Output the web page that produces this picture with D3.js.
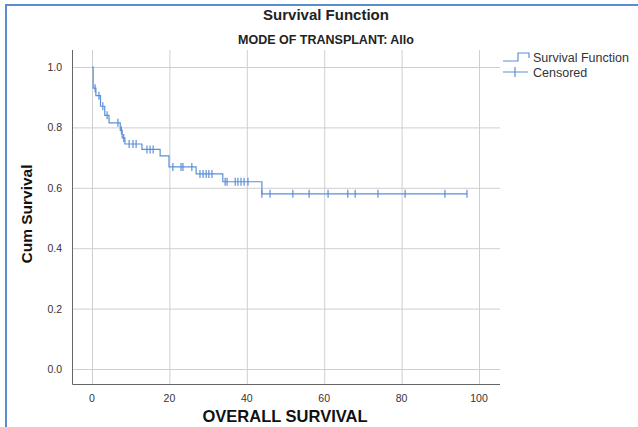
<!DOCTYPE html>
<html>
<head>
<meta charset="utf-8">
<script src="https://cdn.jsdelivr.net/npm/d3@7"></script>
<style>
  body { margin: 0; background: #fff; }
  svg { font-family: "Liberation Sans", Arial, sans-serif; }
</style>
</head>
<body>
<script>
// survival steps: at stepTimes[i] the curve drops to stepSurvival[i]
const stepTimes = [0, 0.3, 1.0, 2.2, 3.3, 4.4, 7.3, 7.8, 8.5, 12.9, 17.6, 19.9, 26.9, 33.8, 43.9];
const stepSurvival = [1.0, 0.93, 0.905, 0.87, 0.84, 0.815, 0.79, 0.765, 0.745, 0.727, 0.706, 0.669, 0.646, 0.62, 0.58];
const lastTime = 96.9;

// censored cases (months)
const censoredTimes = [0.8, 1.8, 2.8, 3.9, 6.7, 7.6, 8.2, 9.6, 10.6, 11.4, 14.2, 15.0, 15.8,
  20.9, 23.0, 23.5, 25.8, 27.9, 28.7, 29.5, 30.2, 31.0,
  34.4, 34.9, 37.0, 37.7, 38.5, 39.3, 40.3,
  43.9, 46.0, 51.9, 56.1, 61.0, 66.1, 68.0, 73.9, 80.9, 91.2, 96.9];

const xTicks = [0, 20, 40, 60, 80, 100];
const yTicks = [0, 0.2, 0.4, 0.6, 0.8, 1.0];

const W = 638;
const H = 427;
const frame = { left: 72, right: 500, top: 50, bottom: 384 };
const blue = '#5b8fd8';

const x = d3.scaleLinear().domain([0, 100]).range([92, 479]);
const y = d3.scaleLinear().domain([0, 1]).range([369, 67]);

const survivalAt = (t) => {
  let s = 1;
  stepTimes.forEach((st, i) => { if (st <= t) s = stepSurvival[i]; });
  return s;
};

const svg = d3.select('body').append('svg')
  .attr('width', W)
  .attr('height', H);

// outer blue border (only top and left are visible)
svg.append('path')
  .attr('d', `M6,${H} V5 H${W}`)
  .attr('fill', 'none')
  .attr('stroke', '#5b8bd0')
  .attr('stroke-width', 2);

svg.append('text')
  .attr('x', 326).attr('y', 20)
  .attr('text-anchor', 'middle')
  .style('font-size', '15px').style('font-weight', 'bold')
  .attr('fill', '#222')
  .text('Survival Function');

svg.append('text')
  .attr('x', 326).attr('y', 44)
  .attr('text-anchor', 'middle')
  .style('font-size', '12.5px').style('font-weight', 'bold')
  .attr('fill', '#222')
  .text('MODE OF TRANSPLANT: Allo');

// grid
const grid = svg.append('g').attr('stroke', '#cfcfcf').attr('stroke-width', 1);
grid.selectAll('.vx')
  .data(xTicks)
  .enter().append('line')
  .attr('x1', d => x(d) + 0.5).attr('x2', d => x(d) + 0.5)
  .attr('y1', frame.top).attr('y2', frame.bottom);
grid.selectAll('.hy')
  .data(yTicks)
  .enter().append('line')
  .attr('x1', frame.left).attr('x2', frame.right)
  .attr('y1', d => y(d) + 0.5).attr('y2', d => y(d) + 0.5);

// axes
svg.append('path')
  .attr('d', `M${frame.left + 0.5},${frame.top} V${frame.bottom + 0.5} H${frame.right}`)
  .attr('fill', 'none')
  .attr('stroke', '#666')
  .attr('stroke-width', 1);

svg.selectAll('.xl')
  .data(xTicks)
  .enter().append('text')
  .attr('x', d => x(d))
  .attr('y', 402)
  .attr('text-anchor', 'middle')
  .style('font-size', '10.5px')
  .attr('fill', '#333')
  .text(d => d);

svg.selectAll('.yl')
  .data(yTicks)
  .enter().append('text')
  .attr('x', 62)
  .attr('y', d => y(d) + 4)
  .attr('text-anchor', 'end')
  .style('font-size', '10.5px')
  .attr('fill', '#333')
  .text(d => d3.format('.1f')(d));

svg.append('text')
  .attr('transform', `translate(32, 214) rotate(-90)`)
  .attr('text-anchor', 'middle')
  .style('font-size', '15.5px').style('font-weight', 'bold')
  .attr('fill', '#111')
  .text('Cum Survival');

svg.append('text')
  .attr('x', 285).attr('y', 422)
  .attr('text-anchor', 'middle')
  .style('font-size', '16.5px').style('font-weight', 'bold')
  .attr('fill', '#111')
  .text('OVERALL SURVIVAL');

// survival step curve
const pts = stepTimes.map((t, i) => [t, stepSurvival[i]]);
pts.push([lastTime, stepSurvival[stepSurvival.length - 1]]);
const line = d3.line()
  .x(d => x(d[0]))
  .y(d => y(d[1]))
  .curve(d3.curveStepAfter);

svg.append('path')
  .datum(pts)
  .attr('d', line)
  .attr('fill', 'none')
  .attr('stroke', blue)
  .attr('stroke-width', 1.2);

// censored marks
svg.selectAll('.cens')
  .data(censoredTimes)
  .enter().append('line')
  .attr('x1', d => x(d)).attr('x2', d => x(d))
  .attr('y1', d => y(survivalAt(d)) - 4)
  .attr('y2', d => y(survivalAt(d)) + 4)
  .attr('stroke', blue)
  .attr('stroke-width', 1.2);

// legend
const lg = svg.append('g');
lg.append('path')
  .attr('d', 'M503,61 H518 V53 H529 V58')
  .attr('fill', 'none').attr('stroke', blue).attr('stroke-width', 1.2);
lg.append('text')
  .attr('x', 533).attr('y', 62)
  .style('font-size', '12.5px').attr('fill', '#333')
  .text('Survival Function');
lg.append('path')
  .attr('d', 'M503,72 H528 M515,67 V77')
  .attr('fill', 'none').attr('stroke', blue).attr('stroke-width', 1.2);
lg.append('text')
  .attr('x', 533).attr('y', 77)
  .style('font-size', '12.5px').attr('fill', '#333')
  .text('Censored');
</script>
</body>
</html>
